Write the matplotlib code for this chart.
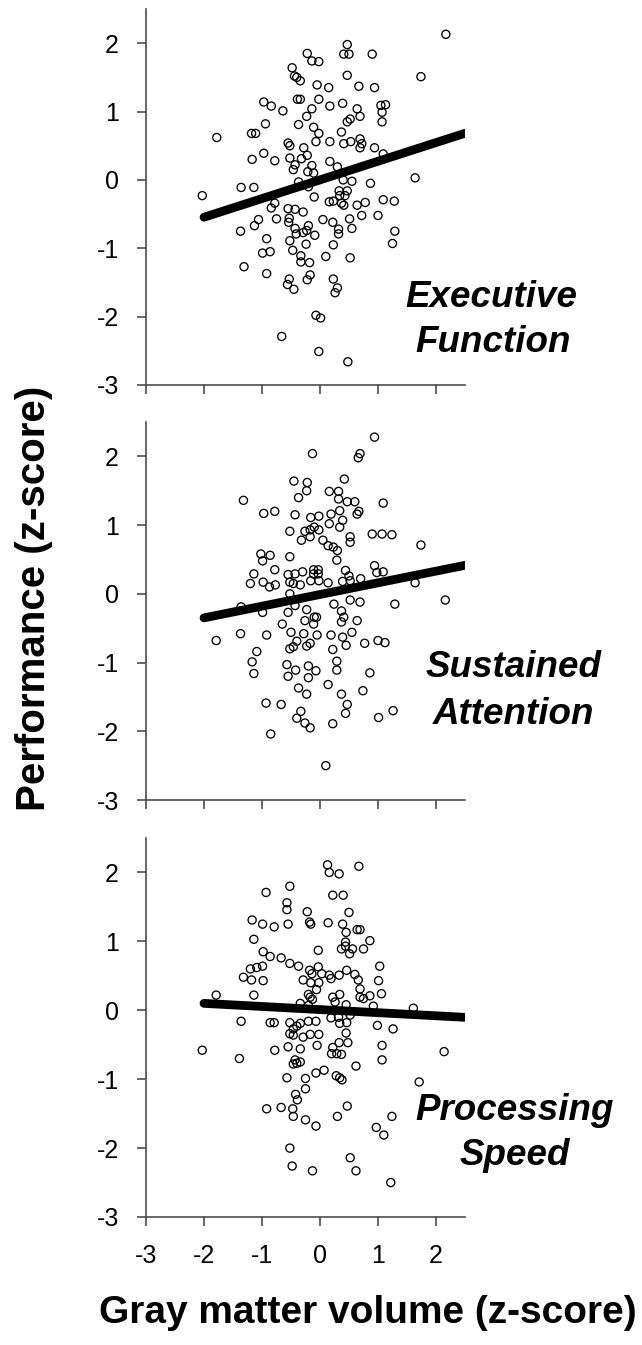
import matplotlib
matplotlib.use("Agg")
import matplotlib.pyplot as plt

plt.rcParams['font.family'] = ['Liberation Sans', 'DejaVu Sans']
plt.rcParams['axes.unicode_minus'] = False

# ---------------- data ----------------
ticks = [-3, -2, -1, 0, 1, 2]
panel_titles = [["Executive", "Function"], ["Sustained", "Attention"], ["Processing", "Speed"]]
xlabel = "Gray matter volume (z-score)"
ylabel = "Performance (z-score)"

ef_x = [2.17, 0.47, 0.41, 0.50, 0.90, -0.22, -0.14, -0.02, 1.74, -0.48, -0.44, -0.40, -0.34, 0.47, -0.05, 0.15,
        0.67, 0.94, -0.97, -0.84, -0.64, -0.39, -0.34, -0.02, -0.14, 0.17, 0.39, 0.64, 1.05, 1.13, 1.07, 1.07,
        0.52, 0.47, 0.69, -0.23, -0.94, -0.37, -0.11, -0.02, 0.37, -1.78, -1.18, -1.11, -0.07, 0.17, 0.41, 0.53,
        0.69, 0.72, 0.69, 0.94, -0.55, -0.52, -0.28, -0.97, -1.17, -0.78, -0.52, -0.32, -0.22, -0.43, -0.46,
        -0.14, -0.21, -0.11, 0.17, 0.30, 1.09, 1.64, 0.40, 0.55, 0.87, -0.37, -0.20, -1.36, -1.14, -2.03,
        -0.10, 0.33, 0.47, 0.34, 0.43, 0.37, 0.41, 0.16, 0.23, 0.64, 0.78, 1.09, 1.28, -0.78, -0.84, -0.55,
        -0.43, -0.29, -0.75, -1.06, -1.13, -0.53, -0.54, -0.20, -0.23, -0.29, -0.43, -0.41, 0.05, 0.22, 0.32,
        0.32, 0.51, 0.55, 0.72, 1.00, -0.09, -0.24, -0.47, -0.52, -1.37, -0.92, -0.99, -0.86, -1.31, -0.92,
        -0.33, -0.18, -0.33, 0.10, 0.23, 0.52, 1.29, 1.25, -0.17, -0.22, -0.53, -0.56, -0.45, 0.23, 0.30, 0.26,
        -0.07, 0.01, -0.66, -0.02, 0.48]
ef_y = [2.13, 1.98, 1.84, 1.84, 1.84, 1.85, 1.74, 1.73, 1.51, 1.64, 1.52, 1.50, 1.45, 1.53, 1.39, 1.35,
        1.37, 1.35, 1.14, 1.08, 1.01, 1.18, 1.18, 1.18, 1.04, 1.08, 1.12, 1.04, 1.09, 1.10, 0.99, 0.85,
        0.89, 0.85, 0.93, 0.93, 0.82, 0.81, 0.77, 0.68, 0.70, 0.62, 0.68, 0.68, 0.56, 0.56, 0.53, 0.56,
        0.60, 0.53, 0.47, 0.47, 0.54, 0.50, 0.47, 0.39, 0.30, 0.28, 0.32, 0.31, 0.36, 0.22, 0.15,
        0.21, 0.12, 0.10, 0.27, 0.19, 0.38, 0.03, 0.00, -0.02, -0.05, -0.03, -0.10, -0.11, -0.11, -0.23,
        -0.25, -0.16, -0.16, -0.23, -0.23, -0.34, -0.37, -0.32, -0.31, -0.37, -0.33, -0.29, -0.31, -0.34, -0.41, -0.42,
        -0.43, -0.47, -0.57, -0.58, -0.67, -0.56, -0.62, -0.67, -0.74, -0.77, -0.71, -0.79, -0.58, -0.62, -0.72,
        -0.79, -0.57, -0.71, -0.52, -0.52, -0.81, -0.94, -1.03, -0.89, -0.75, -0.86, -1.07, -1.05, -1.27, -1.37,
        -1.11, -1.21, -1.20, -1.12, -0.95, -1.14, -0.75, -0.93, -1.39, -1.46, -1.45, -1.53, -1.60, -1.45, -1.58, -1.65,
        -1.98, -2.02, -2.29, -2.51, -2.66]

sa_x = [0.94, -0.13, 0.69, 0.66, 0.42, -0.45, -0.22, -0.23, -0.37, 0.16, 0.32, 0.32, 0.47, 0.60, 1.09, -1.32,
        -0.97, -0.78, -0.43, -0.16, -0.02, 0.19, 0.34, 0.67, 0.64, 0.39, 0.16, 0.34, -0.52, -0.26, -0.17, -0.10,
        -0.02, -0.17, -0.32, 0.05, 0.52, 0.52, 0.90, 1.07, 1.24, 1.74, 0.14, 0.23, 0.30, -1.02, -0.86, -0.99,
        -0.52, 0.29, -0.78, -1.14, -1.20, -0.98, -0.87, -0.77, -0.55, -0.43, -0.30, -0.52, -0.46, -0.34, -0.11,
        -0.03, -0.11, -0.03, -0.16, -0.02, 0.14, 0.44, 0.50, 0.52, 0.39, 0.70, 0.94, 0.98, 1.09, 1.64, -0.52,
        0.24, 0.52, 0.69, 1.29, 2.16, -1.36, -0.43, -0.23,
        -0.99, -0.55, -0.10, -0.06, -0.26, -0.11, 0.37, 0.41, 0.37, 0.64, -0.65, -1.79, -1.37, -0.92, -0.50,
        -0.28, -0.05, 0.19, 0.55, 0.39, 0.45, -0.40, -0.23, -0.17, -0.52, -0.46, 0.77, 1.00, 1.12, 0.22, -1.09,
        -1.17, -1.14, -0.57, -0.42, -0.55, -0.20, -0.20, -0.07, 0.29, 0.29, 0.86, 0.14, -0.37, -0.23, 0.74, 0.37,
        0.47, 0.44, -0.93, -0.67, -0.33, -0.40, -0.26, -0.17, 0.22, 1.01, 1.26, -0.85, 0.10]
sa_y = [2.28, 2.04, 2.04, 1.98, 1.67, 1.64, 1.62, 1.50, 1.40, 1.49, 1.49, 1.38, 1.34, 1.34, 1.32, 1.36,
        1.17, 1.20, 1.15, 1.11, 1.13, 1.16, 1.21, 1.20, 1.16, 1.07, 1.02, 0.97, 0.91, 0.91, 0.93, 0.97,
        0.93, 0.83, 0.78, 0.78, 0.83, 0.75, 0.87, 0.87, 0.86, 0.71, 0.70, 0.68, 0.63, 0.58, 0.56, 0.48,
        0.54, 0.49, 0.35, 0.29, 0.15, 0.17, 0.10, 0.13, 0.28, 0.29, 0.32, 0.17, 0.15, 0.13, 0.35,
        0.35, 0.29, 0.29, 0.19, 0.19, 0.16, 0.34, 0.26, 0.19, 0.18, 0.22, 0.41, 0.31, 0.32, 0.16, 0.00,
        -0.15, -0.09, -0.12, -0.15, -0.09, -0.19, -0.17, -0.23,
        -0.27, -0.27, -0.34, -0.34, -0.39, -0.44, -0.25, -0.34, -0.41, -0.39, -0.44, -0.68, -0.58, -0.60, -0.56,
        -0.58, -0.60, -0.60, -0.56, -0.63, -0.75, -0.69, -0.76, -0.72, -0.80, -0.77, -0.72, -0.68, -0.71, -0.81, -0.84,
        -0.99, -1.16, -1.03, -1.11, -1.20, -1.05, -1.22, -1.12, -0.98, -1.11, -1.15, -1.32, -1.37, -1.46, -1.41, -1.46,
        -1.61, -1.74, -1.59, -1.61, -1.71, -1.81, -1.88, -1.95, -1.89, -1.80, -1.70, -2.04, -2.50]

ps_x = [0.13, 0.16, 0.33, 0.67, -0.93, -0.52, 0.22, 0.40, -0.57, -0.57, -0.22, 0.50, -1.17, -0.99, -0.79, -0.55,
        -0.18, -0.16, 0.14, 0.39, 0.64, 0.69, 0.45, -1.14, 0.86, 0.44, 0.44, 0.37, 0.51, 0.56, 0.75, -0.03,
        -0.98, -0.86, -0.67, -0.52, -0.37, -1.20, -1.09, -0.99, 1.03, -1.32, -1.18, -0.98,
        -0.18, -0.14, -0.03, 0.03, 0.16, 0.19, 0.33, 0.46, 0.60, 0.66, 1.01, -0.29, -0.16, -0.02, -0.06, -1.79,
        -1.14, -0.20, -0.17, -0.13, 0.22, 0.26, 0.34, 0.69, 0.69, 0.75, 0.86, 1.06, 0.92, 1.61, 0.45, -0.34, -0.20,
        -1.36, -0.86, -0.79, -0.52, -0.34, -0.20, -0.07, 0.19, 0.32, 0.46, 0.52, 0.99, 1.26, -0.46, -0.40, -0.52,
        -0.46, -0.29, -0.17, -0.02, 0.34, 0.45, -2.03, -1.39, -0.78, -0.55, -0.34, -0.05, 0.22, 0.20, 0.29, 0.37,
        0.33, 0.48, 1.07, 1.07, 2.14, 0.62, -0.43, -0.34, -0.46, -0.40, -0.07, 0.07, -0.57, -0.25, 0.28, 0.34,
        0.38, 1.71, -0.25, -0.42, -0.39, -0.92, -0.67, -0.47, -0.46, -0.25, -0.07, 0.30, 0.47, 1.24, 0.97, 1.10,
        -0.52, 0.52, -0.48, -0.13, 0.62, 1.22]
ps_y = [2.11, 2.00, 1.98, 2.09, 1.71, 1.80, 1.67, 1.67, 1.56, 1.46, 1.43, 1.42, 1.31, 1.25, 1.21, 1.25,
        1.28, 1.25, 1.27, 1.25, 1.17, 1.17, 1.13, 1.03, 1.01, 0.99, 0.93, 0.89, 0.82, 0.89, 0.89, 0.87,
        0.85, 0.78, 0.76, 0.68, 0.64, 0.60, 0.62, 0.64, 0.64, 0.48, 0.44, 0.43,
        0.58, 0.53, 0.63, 0.53, 0.51, 0.46, 0.51, 0.58, 0.52, 0.44, 0.43, 0.44, 0.40, 0.40, 0.30, 0.22,
        0.22, 0.23, 0.19, 0.16, 0.19, 0.12, 0.23, 0.31, 0.19, 0.17, 0.21, 0.24, 0.06, 0.03, 0.08, 0.10, 0.07,
        -0.16, -0.18, -0.18, -0.18, -0.19, -0.16, -0.16, -0.11, -0.10, -0.18, -0.07, -0.22, -0.27, -0.27, -0.23, -0.34,
        -0.36, -0.39, -0.35, -0.35, -0.19, -0.33, -0.58, -0.70, -0.58, -0.53, -0.56, -0.51, -0.54, -0.63, -0.63, -0.64,
        -0.47, -0.47, -0.51, -0.72, -0.60, -0.81, -0.72, -0.75, -0.78, -0.77, -0.91, -0.87, -0.98, -0.99, -0.95, -0.98,
        -1.01, -1.04, -1.14, -1.22, -1.30, -1.43, -1.41, -1.43, -1.54, -1.59, -1.68, -1.54, -1.39, -1.54, -1.70, -1.81,
        -2.00, -2.14, -2.26, -2.33, -2.33, -2.50]

# regression fits (slope, intercept) and the x span of each fitted line
fit_slopes = [0.273, 0.17, -0.045]
fit_intercepts = [0.0, -0.01, 0.01]
fit_x = [-2.0, 2.5]

# ---------------- figure ----------------
W, H = 642, 1345
fig = plt.figure(figsize=(W / 100, H / 100), dpi=100)

def fx(px):
    return px / W

def fy(py):
    return 1 - py / H

panel_px = [(9, 385), (422, 800), (838, 1217)]   # top, bottom in pixels
left_px, right_px = 146, 465
title_pos = [((491, 307), (493, 352)), ((514, 677), (513, 724)), ((515, 1120), (515, 1165))]

xs = [ef_x, sa_x, ps_x]
ys = [ef_y, sa_y, ps_y]
spine_col = '#4d4d4d'

for i, (top, bot) in enumerate(panel_px):
    ax = fig.add_axes([fx(left_px), fy(bot), (right_px - left_px) / W, (bot - top) / H])
    ax.set_xlim(-3, 2.5)
    ax.set_ylim(-3, 2.5)
    ax.scatter(xs[i], ys[i], s=34, facecolors='none', edgecolors='black', linewidths=0.95, zorder=2)
    lx = fit_x
    ly = [fit_slopes[i] * v + fit_intercepts[i] for v in lx]
    ax.plot(lx, ly, color='black', lw=6.3, solid_capstyle='round', zorder=3)
    for s in ['top', 'right']:
        ax.spines[s].set_visible(False)
    for s in ['left', 'bottom']:
        ax.spines[s].set_color(spine_col)
        ax.spines[s].set_linewidth(1.2)
    ax.set_xticks(ticks)
    ax.set_yticks(ticks)
    ax.set_yticklabels([str(t) for t in ticks])
    if i == 2:
        ax.set_xticklabels([str(t) for t in ticks])
    else:
        ax.set_xticklabels([])
    ax.tick_params(axis='both', direction='out', length=6.5, width=1.2, color=spine_col,
                   labelsize=18, labelcolor='black')
    ax.tick_params(axis='y', pad=13)
    ax.tick_params(axis='x', pad=13)
    ax.patch.set_alpha(0)
    for line, (px, py) in zip(panel_titles[i], title_pos[i]):
        fig.text(fx(px), fy(py), line, ha='center', va='baseline', fontsize=26.5,
                 fontweight='bold', fontstyle='italic')

fig.text(fx(34), fy(598), ylabel, rotation=90, ha='center', va='center',
         fontsize=29, fontweight='bold')
fig.text(fx(368), fy(1313), xlabel, ha='center', va='center',
         fontsize=28, fontweight='bold')

fig.savefig('out.png', dpi=100, facecolor='white')
